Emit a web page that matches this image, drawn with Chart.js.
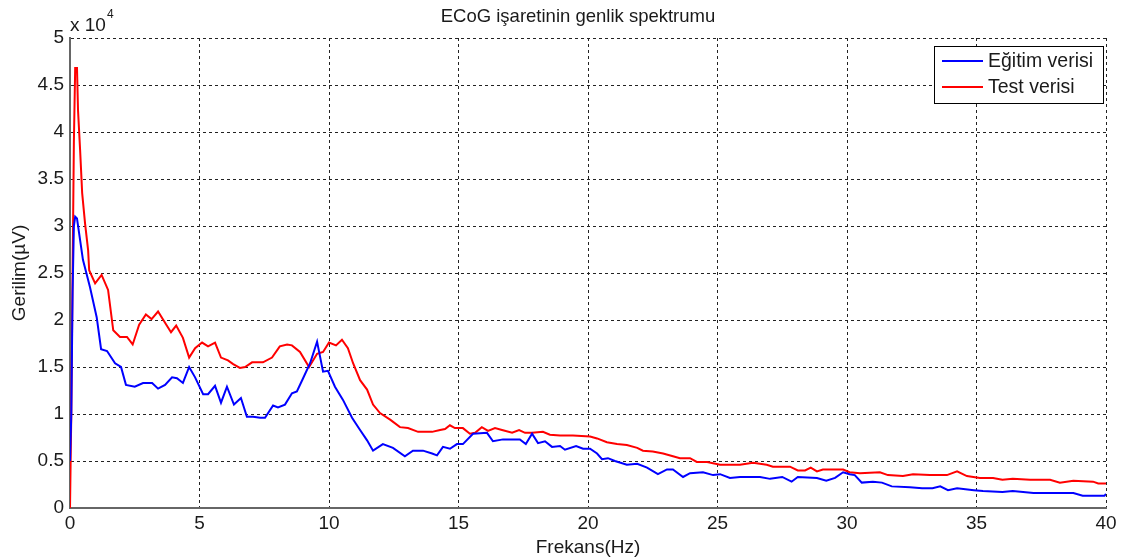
<!DOCTYPE html>
<html>
<head>
<meta charset="utf-8">
<script src="https://cdn.jsdelivr.net/npm/chart.js@4/dist/chart.umd.min.js"></script>
<style>
html,body{margin:0;padding:0;background:#fff;}
#wrap{width:1126px;height:560px;}
</style>
</head>
<body>
<div id="wrap"><canvas id="c" width="1126" height="560"></canvas></div>
<script>
// Values in units of 10^4 µV
const titleText = "ECoG işaretinin genlik spektrumu";
const xTitle = "Frekans(Hz)";
const yTitle = "Gerilim(µV)";
const seriesNames = ["Eğitim verisi", "Test verisi"];
const xTicks = [0,5,10,15,20,25,30,35,40];
const yTicks = [0,0.5,1,1.5,2,2.5,3,3.5,4,4.5,5];

const egitimF = [0,0.05,0.1,0.15,0.2,0.27,0.39,0.5,0.77,1.03,1.2,1.43,1.74,1.97,2.16,2.5,2.82,2.97,3.17,3.4,3.67,3.94,4.13,4.36,4.6,4.83,5.14,5.33,5.6,5.83,6.06,6.33,6.6,6.83,7.07,7.34,7.53,7.84,8.03,8.3,8.57,8.76,9.0,9.27,9.54,9.77,9.96,10.23,10.54,10.89,11.2,11.47,11.7,12.08,12.47,12.93,13.24,13.63,13.98,14.17,14.4,14.67,14.94,15.17,15.56,16.1,16.33,16.72,17.37,17.6,17.84,18.07,18.34,18.61,18.92,19.11,19.54,19.81,20.08,20.35,20.54,20.77,21.04,21.5,21.9,22.28,22.7,23.05,23.28,23.67,23.94,24.44,24.83,25.1,25.48,25.87,26.64,27.03,27.5,27.86,28.1,28.84,29.2,29.54,29.85,30.1,30.3,30.57,31.0,31.35,31.73,32.43,32.9,33.3,33.6,33.9,34.25,34.9,35.25,36.0,36.4,37.2,38.74,39.1,39.94,40];
const egitimV = [0.5,1.0,2.3,3.0,3.1,3.08,2.85,2.64,2.35,2.03,1.69,1.67,1.54,1.5,1.31,1.29,1.33,1.33,1.33,1.27,1.31,1.39,1.38,1.33,1.5,1.39,1.21,1.21,1.3,1.12,1.29,1.1,1.17,0.97,0.97,0.96,0.96,1.09,1.07,1.1,1.22,1.24,1.38,1.54,1.77,1.45,1.46,1.29,1.15,0.96,0.83,0.72,0.61,0.68,0.64,0.55,0.61,0.61,0.58,0.56,0.65,0.63,0.68,0.68,0.79,0.8,0.71,0.73,0.73,0.68,0.79,0.69,0.71,0.65,0.66,0.62,0.66,0.63,0.63,0.58,0.52,0.53,0.5,0.46,0.47,0.43,0.36,0.41,0.41,0.33,0.37,0.38,0.35,0.36,0.32,0.33,0.33,0.31,0.33,0.28,0.33,0.32,0.29,0.32,0.38,0.36,0.35,0.27,0.28,0.27,0.23,0.22,0.21,0.21,0.23,0.19,0.21,0.19,0.18,0.17,0.18,0.16,0.16,0.13,0.13,0.15];

const testF = [0,0.05,0.1,0.15,0.2,0.27,0.31,0.39,0.47,0.58,0.7,0.74,0.97,1.22,1.47,1.67,1.93,2.2,2.42,2.67,2.93,3.15,3.4,3.67,3.9,4.1,4.36,4.6,4.83,5.1,5.33,5.6,5.83,6.1,6.3,6.56,6.76,7.03,7.45,7.8,8.1,8.38,8.57,8.88,9.23,9.54,9.77,10.0,10.27,10.5,10.73,10.93,11.2,11.47,11.7,11.97,12.36,12.74,13.05,13.44,13.98,14.29,14.48,14.67,14.86,15.17,15.44,15.64,15.9,16.14,16.41,16.68,17.07,17.34,17.57,17.84,18.26,18.53,18.92,19.42,20.08,20.35,20.73,21.12,21.5,21.9,22.12,22.5,22.9,23.28,23.55,23.94,24.2,24.6,25.1,25.6,25.87,26.37,26.9,27.14,27.8,28.1,28.38,28.6,28.84,29.07,29.85,30.1,30.5,31.27,31.58,32.16,32.55,33.2,33.86,34.25,34.63,35.13,35.64,36.0,36.4,37.07,37.84,38.22,38.74,39.5,39.7,40];
const testV = [0,1.0,2.5,3.9,4.68,4.68,4.23,3.81,3.35,3.03,2.74,2.53,2.39,2.48,2.32,1.89,1.82,1.82,1.74,1.95,2.06,2.01,2.09,1.97,1.87,1.94,1.81,1.6,1.7,1.76,1.72,1.76,1.6,1.57,1.53,1.49,1.5,1.55,1.55,1.6,1.72,1.74,1.73,1.66,1.5,1.64,1.66,1.76,1.73,1.79,1.7,1.54,1.36,1.26,1.1,1.01,0.94,0.86,0.85,0.81,0.81,0.83,0.84,0.88,0.85,0.85,0.79,0.8,0.86,0.82,0.85,0.83,0.8,0.83,0.8,0.8,0.81,0.78,0.77,0.77,0.76,0.74,0.7,0.68,0.67,0.64,0.61,0.6,0.58,0.55,0.53,0.53,0.49,0.49,0.46,0.46,0.46,0.48,0.46,0.44,0.44,0.4,0.4,0.43,0.39,0.41,0.41,0.38,0.37,0.38,0.35,0.34,0.36,0.35,0.35,0.39,0.34,0.32,0.32,0.3,0.31,0.3,0.3,0.27,0.29,0.28,0.26,0.26];

const FONT = "'Liberation Sans', Arial, Helvetica, sans-serif";
const TXT = '#1a1a1a';

function pts(f, v) { return f.map((x, i) => ({x: x, y: v[i]})); }

const overlay = {
  id: 'overlay',
  afterDraw(chart) {
    const ctx = chart.ctx, a = chart.chartArea;
    ctx.save();
    // title
    ctx.fillStyle = TXT;
    ctx.font = "18.5px " + FONT;
    ctx.textAlign = 'center';
    ctx.textBaseline = 'middle';
    ctx.fillText(titleText, 578, 17);
    // exponent
    ctx.textAlign = 'left';
    ctx.font = "19px " + FONT;
    ctx.fillText("x 10", a.left, 26);
    const w = ctx.measureText("x 10").width;
    ctx.font = "12px " + FONT;
    ctx.fillText("4", a.left + w + 1, 15);
    // legend
    const lx = 934, ly = 46, lw = 169, lh = 57;
    ctx.fillStyle = '#fff';
    ctx.fillRect(lx, ly, lw, lh);
    ctx.strokeStyle = '#000';
    ctx.lineWidth = 1;
    ctx.strokeRect(lx + 0.5, ly + 0.5, lw, lh);
    const rows = [61, 87];
    chart.data.datasets.forEach((ds, i) => {
      ctx.strokeStyle = ds.borderColor;
      ctx.lineWidth = 2;
      ctx.beginPath();
      ctx.moveTo(942, rows[i]);
      ctx.lineTo(983, rows[i]);
      ctx.stroke();
      ctx.fillStyle = TXT;
      ctx.font = "19.5px " + FONT;
      ctx.textAlign = 'left';
      ctx.textBaseline = 'middle';
      ctx.fillText(ds.label, 988, rows[i] + 1);
    });
    ctx.restore();
  }
};

new Chart(document.getElementById('c'), {
  type: 'line',
  data: {
    datasets: [
      {label: seriesNames[0], data: pts(egitimF, egitimV), borderColor: '#0000ff', backgroundColor: '#0000ff', borderWidth: 2, pointRadius: 0, tension: 0, fill: false},
      {label: seriesNames[1], data: pts(testF, testV), borderColor: '#ff0000', backgroundColor: '#ff0000', borderWidth: 2, pointRadius: 0, tension: 0, fill: false}
    ]
  },
  options: {
    responsive: false,
    animation: false,
    layout: {padding: {top: 38, right: 20, bottom: 0, left: 0}},
    plugins: {legend: {display: false}, title: {display: false}, tooltip: {enabled: false}},
    scales: {
      x: {
        type: 'linear', min: 0, max: 40,
        afterBuildTicks: s => { s.ticks = xTicks.map(v => ({value: v})); },
        afterFit: s => { s.height = 52; },
        grid: {color: '#222', lineWidth: 1, drawTicks: false},
        border: {display: true, color: '#666', width: 2, dash: [3, 3]},
        ticks: {padding: 4, color: TXT, font: {family: FONT, size: 19}, maxRotation: 0},
        title: {display: true, text: xTitle, color: TXT, font: {family: FONT, size: 19}, padding: {top: 0, bottom: 1}}
      },
      y: {
        type: 'linear', min: 0, max: 5,
        afterBuildTicks: s => { s.ticks = yTicks.map(v => ({value: v})); },
        afterFit: s => { s.width = 70; },
        grid: {color: '#222', lineWidth: 1, drawTicks: false},
        border: {display: true, color: '#666', width: 2, dash: [3, 3]},
        ticks: {padding: 6, color: TXT, font: {family: FONT, size: 19}, callback: v => String(v)},
        title: {display: true, text: yTitle, color: TXT, font: {family: FONT, size: 19}, padding: {top: 8, bottom: 0}}
      }
    }
  },
  plugins: [overlay]
});
</script>
</body>
</html>
